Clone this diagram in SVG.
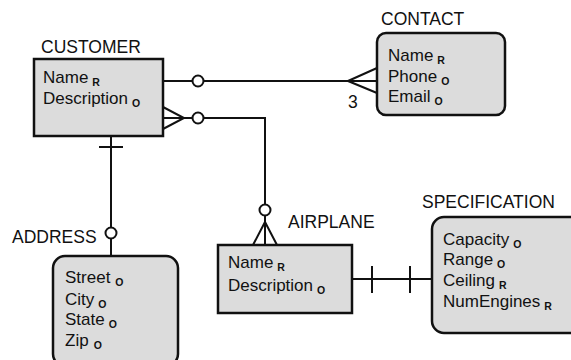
<svg xmlns="http://www.w3.org/2000/svg" width="571" height="360" viewBox="0 0 571 360">
<style>
.box{fill:#dcdcdc;stroke:#111;stroke-width:2.5}
.lbl{font-family:"Liberation Sans",Arial,sans-serif;font-size:17.5px;fill:#111}
.att{font-family:"Liberation Sans",Arial,sans-serif;font-size:17px;fill:#111}
.sub{font-size:10.5px;font-weight:bold}
.ln{fill:none;stroke:#111;stroke-width:2}
.oc{fill:#fff;stroke:#111;stroke-width:2}
</style>
<rect width="571" height="360" fill="#fff"/>
<g id="connectors">
  <line class="ln" x1="163" y1="81" x2="377" y2="81"/>
  <circle class="oc" cx="198" cy="81" r="5.5"/>
  <path class="ln" d="M348 81 L377 68 M348 81 L377 93"/>
  <path class="ln" d="M163 118 L265 118 L265 245"/>
  <path class="ln" d="M163 107 L184 118 L163 129"/>
  <circle class="oc" cx="198" cy="118" r="5.5"/>
  <circle class="oc" cx="265" cy="210" r="5.5"/>
  <path class="ln" d="M253 245 L265 222 L277 245"/>
  <line class="ln" x1="111" y1="136" x2="111" y2="256"/>
  <line class="ln" x1="99" y1="147" x2="123" y2="147"/>
  <circle class="oc" cx="111" cy="233" r="5.5"/>
  <line class="ln" x1="352" y1="279" x2="432" y2="279"/>
  <line class="ln" x1="372" y1="266" x2="372" y2="293"/>
  <line class="ln" x1="410" y1="266" x2="410" y2="293"/>
  <text class="lbl" x="348" y="108">3</text>
</g>
<g id="customer">
  <text class="lbl" x="41" y="53">CUSTOMER</text>
  <rect class="box" x="34" y="59" width="129" height="77"/>
  <text class="att" x="43" y="83">Name<tspan class="sub" dx="4" dy="3">R</tspan></text>
  <text class="att" x="43" y="104">Description<tspan class="sub" dx="4" dy="3">O</tspan></text>
</g>
<g id="contact">
  <text class="lbl" x="381" y="25">CONTACT</text>
  <rect class="box" x="377" y="33" width="128" height="82" rx="9"/>
  <text class="att" x="388" y="61">Name<tspan class="sub" dx="4" dy="3">R</tspan></text>
  <text class="att" x="388" y="82">Phone<tspan class="sub" dx="4" dy="3">O</tspan></text>
  <text class="att" x="388" y="102">Email<tspan class="sub" dx="4" dy="3">O</tspan></text>
</g>
<g id="address">
  <text class="lbl" x="12" y="243">ADDRESS</text>
  <rect class="box" x="53" y="256" width="125" height="110" rx="12"/>
  <text class="att" x="65" y="283">Street<tspan class="sub" dx="5" dy="3">O</tspan></text>
  <text class="att" x="65" y="305">City<tspan class="sub" dx="4" dy="3">O</tspan></text>
  <text class="att" x="65" y="325">State<tspan class="sub" dx="4" dy="3">O</tspan></text>
  <text class="att" x="65" y="346">Zip<tspan class="sub" dx="5" dy="3">O</tspan></text>
</g>
<g id="airplane">
  <text class="lbl" x="288" y="228">AIRPLANE</text>
  <rect class="box" x="218" y="245" width="134" height="68"/>
  <text class="att" x="228" y="268">Name<tspan class="sub" dx="4" dy="3">R</tspan></text>
  <text class="att" x="228" y="291">Description<tspan class="sub" dx="4" dy="3">O</tspan></text>
</g>
<g id="specification">
  <text class="lbl" x="422" y="208">SPECIFICATION</text>
  <rect class="box" x="432" y="217" width="150" height="116" rx="12"/>
  <text class="att" x="443" y="245">Capacity<tspan class="sub" dx="4" dy="3">O</tspan></text>
  <text class="att" x="443" y="265">Range<tspan class="sub" dx="4" dy="3">O</tspan></text>
  <text class="att" x="443" y="286">Ceiling<tspan class="sub" dx="4" dy="3">R</tspan></text>
  <text class="att" x="443" y="307">NumEngines<tspan class="sub" dx="4" dy="3">R</tspan></text>
</g>
</svg>
